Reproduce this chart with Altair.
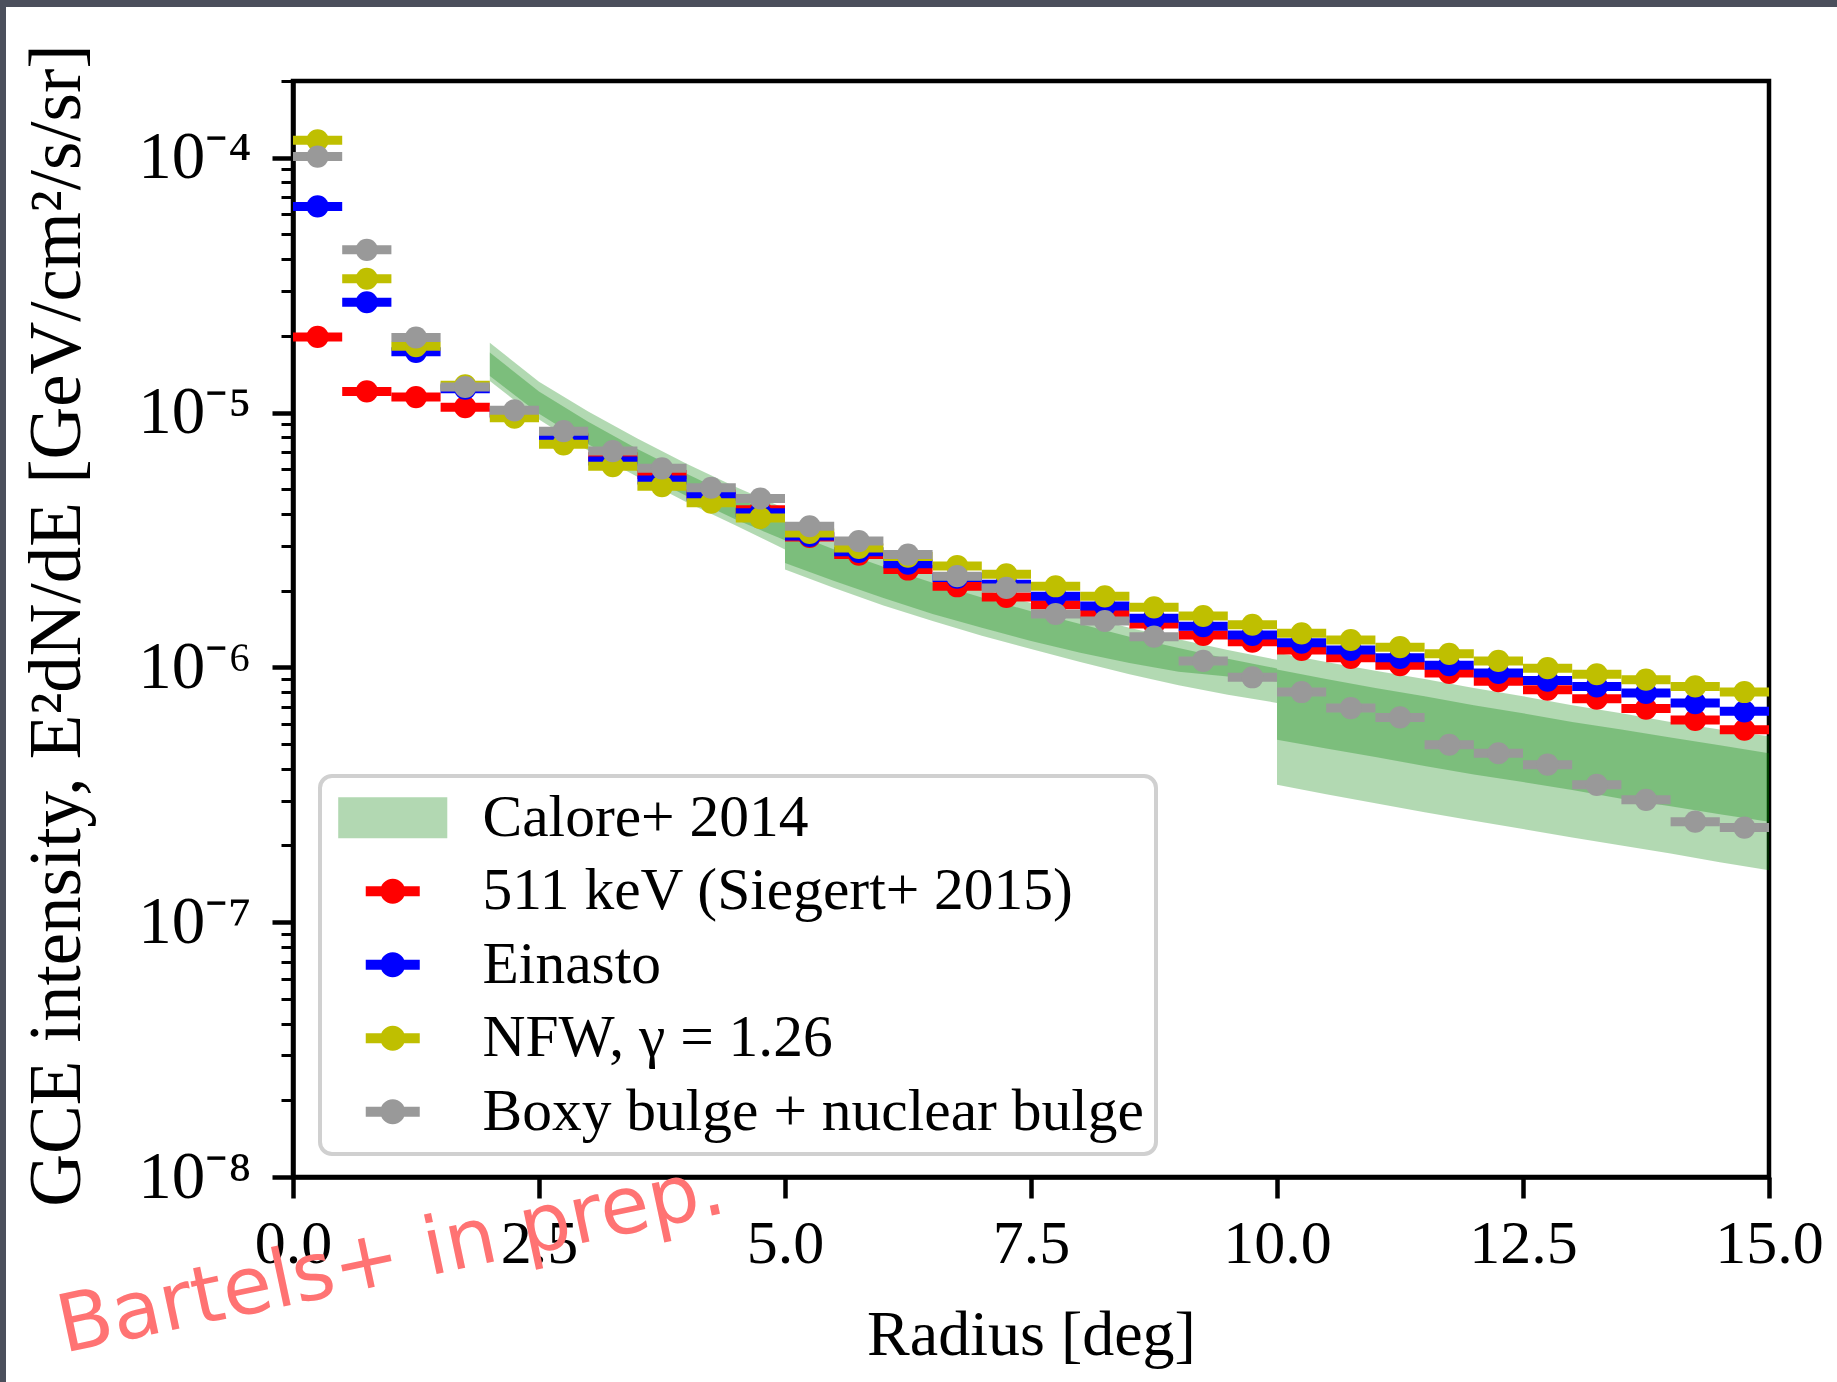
import altair as alt
import pandas as pd

# ---------------- data ----------------
radius = [0.25, 0.75, 1.25, 1.75, 2.25, 2.75, 3.25, 3.75, 4.25, 4.75,
          5.25, 5.75, 6.25, 6.75, 7.25, 7.75, 8.25, 8.75, 9.25, 9.75,
          10.25, 10.75, 11.25, 11.75, 12.25, 12.75, 13.25, 13.75, 14.25, 14.75]
bin_half_width = 0.25

siegert_511 = [1.98e-5, 1.21e-5, 1.15e-5, 1.05e-5, 1.0e-5, 8.0e-6, 6.7e-6, 5.71e-6, 4.79e-6, 4.15e-6,
               3.25e-6, 2.77e-6, 2.42e-6, 2.08e-6, 1.89e-6, 1.76e-6, 1.62e-6, 1.48e-6, 1.34e-6, 1.26e-6,
               1.17e-6, 1.09e-6, 1.02e-6, 9.5e-7, 8.82e-7, 8.17e-7, 7.53e-7, 6.89e-7, 6.22e-7, 5.69e-7]
einasto = [6.44e-5, 2.71e-5, 1.73e-5, 1.24e-5, 9.9e-6, 7.87e-6, 6.45e-6, 5.43e-6, 4.69e-6, 4.04e-6,
           3.28e-6, 2.84e-6, 2.55e-6, 2.25e-6, 2.12e-6, 1.90e-6, 1.74e-6, 1.56e-6, 1.45e-6, 1.34e-6,
           1.25e-6, 1.17e-6, 1.09e-6, 1.02e-6, 9.5e-7, 8.87e-7, 8.42e-7, 7.93e-7, 7.24e-7, 6.72e-7]
nfw = [1.17e-4, 3.35e-5, 1.82e-5, 1.28e-5, 9.55e-6, 7.5e-6, 6.16e-6, 5.14e-6, 4.43e-6, 3.86e-6,
       3.37e-6, 2.94e-6, 2.72e-6, 2.5e-6, 2.32e-6, 2.08e-6, 1.90e-6, 1.72e-6, 1.59e-6, 1.47e-6,
       1.36e-6, 1.28e-6, 1.20e-6, 1.13e-6, 1.06e-6, 9.93e-7, 9.4e-7, 8.95e-7, 8.42e-7, 8.0e-7]
boxy = [1.01e-4, 4.35e-5, 1.97e-5, 1.26e-5, 1.02e-5, 8.45e-6, 7.06e-6, 6.04e-6, 5.07e-6, 4.6e-6,
        3.58e-6, 3.13e-6, 2.77e-6, 2.28e-6, 2.05e-6, 1.62e-6, 1.52e-6, 1.32e-6, 1.06e-6, 9.14e-7,
        8.0e-7, 6.92e-7, 6.36e-7, 4.97e-7, 4.6e-7, 4.15e-7, 3.46e-7, 3.02e-7, 2.48e-7, 2.35e-7]

# Calore+ 2014 band: three radial segments
band_segment = [1, 1, 1, 1, 1, 1, 1,
                2, 2, 2, 2, 2, 2, 2, 2, 2, 2, 2,
                3, 3, 3, 3, 3, 3, 3, 3, 3, 3, 3]
band_radius = [2.0, 2.5, 3.0, 3.5, 4.0, 4.5, 5.0,
               5.0, 5.5, 6.0, 6.5, 7.0, 7.5, 8.0, 8.5, 9.0, 9.5, 10.0,
               10.0, 10.5, 11.0, 11.5, 12.0, 12.5, 13.0, 13.5, 14.0, 14.5, 15.0]
band_outer_hi = [1.88e-5, 1.32e-5, 1.01e-5, 7.9e-6, 6.3e-6, 5.1e-6, 4.2e-6,
                 3.72e-6, 3.13e-6, 2.68e-6, 2.32e-6, 2.03e-6, 1.79e-6, 1.60e-6, 1.43e-6, 1.29e-6, 1.17e-6, 1.07e-6,
                 1.14e-6, 1.05e-6, 9.7e-7, 9.0e-7, 8.3e-7, 7.7e-7, 7.1e-7, 6.6e-7, 6.1e-7, 5.7e-7, 5.36e-7]
band_inner_hi = [1.72e-5, 1.21e-5, 9.2e-6, 7.2e-6, 5.75e-6, 4.65e-6, 3.85e-6,
                 3.45e-6, 2.9e-6, 2.48e-6, 2.15e-6, 1.88e-6, 1.66e-6, 1.48e-6, 1.32e-6, 1.19e-6, 1.08e-6, 9.9e-7,
                 9.8e-7, 9.0e-7, 8.3e-7, 7.7e-7, 7.1e-7, 6.6e-7, 6.1e-7, 5.7e-7, 5.3e-7, 4.95e-7, 4.6e-7]
band_inner_lo = [1.39e-5, 9.9e-6, 7.5e-6, 5.9e-6, 4.7e-6, 3.8e-6, 3.15e-6,
                 2.57e-6, 2.18e-6, 1.87e-6, 1.62e-6, 1.43e-6, 1.27e-6, 1.14e-6, 1.04e-6, 9.6e-7, 9.2e-7, 8.8e-7,
                 5.2e-7, 4.8e-7, 4.45e-7, 4.1e-7, 3.8e-7, 3.55e-7, 3.3e-7, 3.05e-7, 2.85e-7, 2.65e-7, 2.48e-7]
band_outer_lo = [1.33e-5, 9.4e-6, 7.1e-6, 5.6e-6, 4.45e-6, 3.6e-6, 2.9e-6,
                 2.42e-6, 2.05e-6, 1.75e-6, 1.52e-6, 1.33e-6, 1.18e-6, 1.05e-6, 9.4e-7, 8.5e-7, 7.8e-7, 7.25e-7,
                 3.46e-7, 3.18e-7, 2.93e-7, 2.7e-7, 2.5e-7, 2.32e-7, 2.15e-7, 2.0e-7, 1.86e-7, 1.72e-7, 1.6e-7]

series_names = ["Calore+ 2014", "511 keV (Siegert+ 2015)", "Einasto",
                "NFW, γ = 1.26", "Boxy bulge + nuclear bulge"]
series_colors = ["#b2d8b2", "#ff0000", "#0000ff", "#bfbf00", "#999999"]
point_series = [siegert_511, einasto, nfw, boxy]

x_ticks = [0.0, 2.5, 5.0, 7.5, 10.0, 12.5, 15.0]
y_major = [1e-8, 1e-7, 1e-6, 1e-5, 1e-4]
y_major_labels = ["10⁻⁸", "10⁻⁷", "10⁻⁶", "10⁻⁵", "10⁻⁴"]
y_minor = [2e-8, 3e-8, 4e-8, 5e-8, 6e-8, 7e-8, 8e-8, 9e-8,
           2e-7, 3e-7, 4e-7, 5e-7, 6e-7, 7e-7, 8e-7, 9e-7,
           2e-6, 3e-6, 4e-6, 5e-6, 6e-6, 7e-6, 8e-6, 9e-6,
           2e-5, 3e-5, 4e-5, 5e-5, 6e-5, 7e-5, 8e-5, 9e-5, 2e-4]

x_title = "Radius [deg]"
y_title = "GCE intensity, E²dN/dE [GeV/cm²/s/sr]"
watermark = "Bartels+ in prep."

# ---------------- layout / style ----------------
W, H = 1476, 1096
PAD_L, PAD_T, PAD_R, PAD_B = 293, 81, 68, 205
SERIF = "Liberation Serif"
SLIDE_BG = "#4b4f5c"

xscale = alt.Scale(domain=[0, 15], nice=False, zero=False)
yscale = alt.Scale(type="log", domain=[1e-8, 2e-4], nice=False)

label_expr = " : ".join(
    f"abs(datum.value / {v} - 1) < 1e-6 ? '{lab}'" for v, lab in zip(y_major, y_major_labels)
) + " : ''"
major_test = "abs(log(datum.value)/LN10 - round(log(datum.value)/LN10)) < 0.01"

xaxis = alt.Axis(values=x_ticks, format=".1f", title=x_title, grid=False,
                 tickSize=21, tickWidth=4.5, labelPadding=15, labelFlush=False,
                 titleY=158, titleBaseline="middle", labelOverlap=False)
yaxis = alt.Axis(values=y_major + y_minor, labelExpr=label_expr, title=y_title,
                 grid=False, labelOverlap=False, labelFlush=False, labelFontSize=67,
                 tickSize={"condition": {"test": major_test, "value": 21}, "value": 12},
                 tickWidth={"condition": {"test": major_test, "value": 4.5}, "value": 3},
                 labelPadding=21, titleX=-236, titleY=H / 2 - 4, titleBaseline="middle",
                 titleAngle=270, titleFontSize=73)


def X(field):
    return alt.X(field, type="quantitative", scale=xscale, axis=xaxis)


def Y(field):
    return alt.Y(field, type="quantitative", scale=yscale, axis=yaxis)


# thin strips of the dark slide behind the figure (top and left edges)
frame_df = pd.DataFrame({"k": [0]})
strip_top = alt.Chart(frame_df).mark_rect(color=SLIDE_BG).encode(
    x=alt.value(-PAD_L), x2=alt.value(W + PAD_R),
    y=alt.value(-PAD_T), y2=alt.value(-PAD_T + 7))
strip_left = alt.Chart(frame_df).mark_rect(color=SLIDE_BG).encode(
    x=alt.value(-PAD_L), x2=alt.value(-PAD_L + 6),
    y=alt.value(-PAD_T), y2=alt.value(H + PAD_B))

band_df = pd.DataFrame({
    "seg": band_segment, "r": band_radius,
    "olo": band_outer_lo, "ohi": band_outer_hi,
    "ilo": band_inner_lo, "ihi": band_inner_hi,
})

outer = alt.Chart(band_df).mark_area(color="green", opacity=0.3).encode(
    x=X("r"), y=Y("olo"), y2="ohi", detail="seg:N")
inner = alt.Chart(band_df).mark_area(color="green", opacity=0.3).encode(
    x=X("r"), y=Y("ilo"), y2="ihi", detail="seg:N")

layers = [strip_top, strip_left, outer, inner]
for name, color, vals in zip(series_names[1:], series_colors[1:], point_series):
    df = pd.DataFrame({"r": radius, "v": vals})
    df["rlo"] = df["r"] - bin_half_width
    df["rhi"] = df["r"] + bin_half_width
    bars = alt.Chart(df).mark_rule(strokeWidth=9, strokeCap="butt", color=color).encode(
        x=X("rlo"), x2="rhi", y=Y("v"))
    pts = alt.Chart(df).mark_point(filled=True, size=490, opacity=1, color=color,
                                    strokeWidth=0).encode(x=X("r"), y=Y("v"))
    layers += [bars, pts]

errbar_path = ("M-1,-0.185L1,-0.185L1,0.185L-1,0.185Z "
               "M0.463,0A0.463,0.463,0,1,1,-0.463,0A0.463,0.463,0,1,1,0.463,0Z")
patch_path = "M-2.02,-0.76L2.02,-0.76L2.02,0.76L-2.02,0.76Z"

legend_df = pd.DataFrame({"series": series_names, "r": [0.0] * 5, "v": [1e-8] * 5})
legend_layer = alt.Chart(legend_df).mark_point(filled=True, opacity=0).encode(
    x=X("r"), y=Y("v"),
    color=alt.Color("series:N", scale=alt.Scale(domain=series_names, range=series_colors),
                    sort=series_names, title=None,
                    legend=alt.Legend(orient="none", legendX=27, legendY=695,
                                      labelFont=SERIF, labelFontSize=59.5, labelColor="black",
                                      labelLimit=2000, symbolSize=2916, symbolStrokeWidth=0,
                                      symbolOpacity=1, symbolOffset=31, labelOffset=60,
                                      rowPadding=12.5, padding=12, strokeColor="#d0d0d0",
                                      cornerRadius=12, fillColor="white")),
    shape=alt.Shape("series:N", scale=alt.Scale(domain=series_names,
                                                range=[patch_path] + [errbar_path] * 4),
                    sort=series_names, legend=None),
)
layers.append(legend_layer)

wm = alt.Chart(pd.DataFrame({"t": [watermark]})).mark_text(
    font="DejaVu Sans", fontSize=80, color="#ff7373", angle=348,
    align="center", baseline="middle").encode(
    text="t:N", x=alt.value(98), y=alt.value(1178))
layers.append(wm)

chart = alt.layer(*layers).properties(
    width=W, height=H,
    autosize=alt.AutoSizeParams(type="none"),
    padding={"left": PAD_L, "top": PAD_T, "right": PAD_R, "bottom": PAD_B},
    background="white",
).configure_view(stroke="black", strokeWidth=4.5).configure_axis(
    domainColor="black", domainWidth=4.5, tickColor="black",
    labelFont=SERIF, labelFontSize=62, labelColor="black",
    titleFont=SERIF, titleFontSize=64, titleFontWeight="normal", titleColor="black",
).configure_legend(strokeWidth=4)

chart.save("out.html", embed_options={"renderer": "svg", "actions": False})
